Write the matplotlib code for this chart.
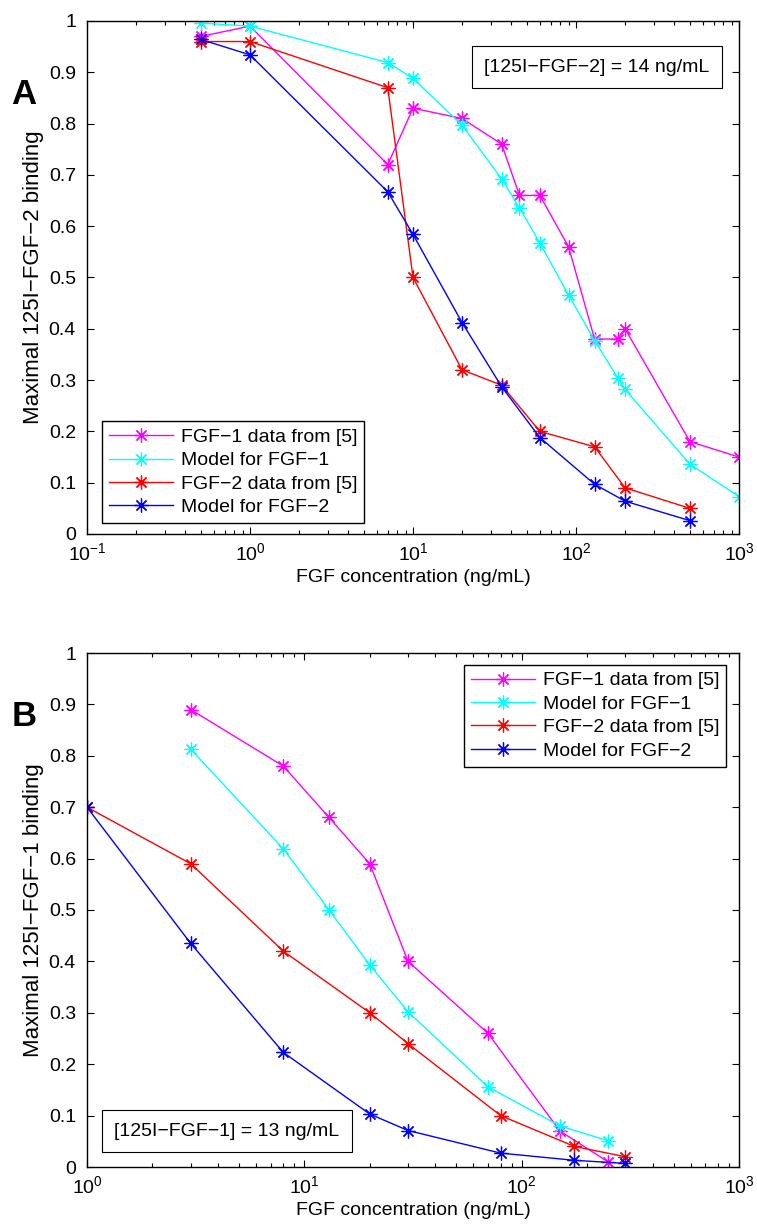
import matplotlib
matplotlib.use("Agg")
import matplotlib.pyplot as plt
from matplotlib.ticker import LogLocator, NullFormatter

plt.rcParams['font.family'] = ['Liberation Sans', 'DejaVu Sans']
plt.rcParams['mathtext.fontset'] = 'custom'
plt.rcParams['mathtext.rm'] = 'Liberation Sans'
plt.rcParams['mathtext.it'] = 'Liberation Sans'
plt.rcParams['mathtext.bf'] = 'Liberation Sans:bold'

# ---------------- Data: panel A ----------------
A_fgf1_x = [0.5, 1, 7, 10, 20, 35, 45, 60, 90, 130, 180, 200, 500, 1000]
A_fgf1_y = [0.97, 0.99, 0.72, 0.83, 0.81, 0.76, 0.66, 0.66, 0.56, 0.38, 0.38, 0.40, 0.18, 0.15]
A_mod1_x = [0.5, 1, 7, 10, 20, 35, 45, 60, 90, 130, 180, 200, 500, 1000]
A_mod1_y = [0.996, 0.990, 0.919, 0.888, 0.797, 0.692, 0.636, 0.567, 0.466, 0.377, 0.305, 0.282, 0.136, 0.073]
A_fgf2_x = [0.5, 1, 7, 10, 20, 35, 60, 130, 200, 500]
A_fgf2_y = [0.96, 0.96, 0.87, 0.50, 0.32, 0.29, 0.20, 0.17, 0.09, 0.05]
A_mod2_x = [0.5, 1, 7, 10, 20, 35, 60, 130, 200, 500]
A_mod2_y = [0.964, 0.934, 0.667, 0.584, 0.412, 0.287, 0.188, 0.097, 0.064, 0.026]

# ---------------- Data: panel B ----------------
B_fgf1_x = [3, 8, 13, 20, 30, 70, 150, 250]
B_fgf1_y = [0.89, 0.78, 0.68, 0.59, 0.40, 0.26, 0.07, 0.01]
B_mod1_x = [3, 8, 13, 20, 30, 70, 150, 250]
B_mod1_y = [0.813, 0.619, 0.500, 0.393, 0.302, 0.156, 0.080, 0.051]
B_fgf2_x = [1, 3, 8, 20, 30, 80, 175, 300]
B_fgf2_y = [0.70, 0.59, 0.42, 0.30, 0.24, 0.10, 0.04, 0.02]
B_mod2_x = [1, 3, 8, 20, 30, 80, 175, 300]
B_mod2_y = [0.70, 0.435, 0.223, 0.103, 0.071, 0.027, 0.013, 0.007]

labels = ["FGF\u22121 data from [5]", "Model for FGF\u22121",
          "FGF\u22122 data from [5]", "Model for FGF\u22122"]
colors = ["#ff00ff", "#00ffff", "#ff0000", "#0000ff"]
y_ticks = [0, 0.1, 0.2, 0.3, 0.4, 0.5, 0.6, 0.7, 0.8, 0.9, 1]
y_ticklabels = ["0", "0.1", "0.2", "0.3", "0.4", "0.5", "0.6", "0.7", "0.8", "0.9", "1"]

W, H = 757, 1228
fig = plt.figure(figsize=(W / 100, H / 100), dpi=100)

FS = 14
MARK = (8, 2, 0)


def px_axes(left, top, right, bottom):
    return fig.add_axes([left / W, 1 - bottom / H, (right - left) / W, (bottom - top) / H])


def style(ax, xlim, ylabel):
    ax.set_xscale('log')
    ax.set_xlim(*xlim)
    ax.set_ylim(0, 1)
    ax.set_yticks(y_ticks)
    ax.set_yticklabels(y_ticklabels)
    ax.xaxis.set_major_locator(LogLocator(base=10, numticks=10))
    ax.xaxis.set_minor_locator(LogLocator(base=10, subs=range(2, 10), numticks=20))
    ax.xaxis.set_minor_formatter(NullFormatter())
    ax.tick_params(which='both', direction='in', top=True, right=True, labelsize=FS, width=0.8)
    ax.tick_params(which='major', length=5)
    ax.tick_params(which='minor', length=3)
    ax.tick_params(axis='x', which='major', pad=6)
    ax.tick_params(axis='y', which='major', pad=8)
    for s in ax.spines.values():
        s.set_linewidth(1.0)
    ax.set_xlabel("FGF concentration (ng/mL)", fontsize=FS)
    ax.xaxis.set_label_coords(0.5, -0.068)
    ax.set_ylabel(ylabel, fontsize=16)
    ax.yaxis.set_label_coords(-0.066, 0.5)


def draw(ax, series):
    hs = []
    for (x, y), c, lab in zip(series, colors, labels):
        h, = ax.plot(x, y, color=c, lw=1.0, marker=MARK, markersize=10,
                     markeredgewidth=0.9, label=lab)
        hs.append(h)
    return hs


leg_kw = dict(bbox_transform=fig.transFigure, borderaxespad=0, fontsize=FS,
              numpoints=1, handlelength=3.3, handletextpad=0.4, labelspacing=0.3,
              fancybox=False, framealpha=1, edgecolor='black', borderpad=0.35)

# Panel A
axA = px_axes(87, 21, 739, 534)
hA = draw(axA, [(A_fgf1_x, A_fgf1_y), (A_mod1_x, A_mod1_y),
                (A_fgf2_x, A_fgf2_y), (A_mod2_x, A_mod2_y)])
style(axA, (0.1, 1000), "Maximal 125I\u2212FGF\u22122 binding")
legA = fig.legend(handles=hA, loc='lower left', bbox_to_anchor=(102 / W, 1 - 523 / H), **leg_kw)
legA.get_frame().set_linewidth(1.0)
fig.text(597 / W, 1 - 67 / H, "[125I\u2212FGF\u22122] = 14 ng/mL", ha='center', va='center',
         fontsize=FS, bbox=dict(boxstyle='square,pad=0.62', fc='white', ec='black', lw=0.8))
fig.text(24 / W, 1 - 95 / H, "A", ha='center', va='center', fontsize=25, fontweight='bold')

# Panel B
axB = px_axes(87, 653, 739, 1167)
hB = draw(axB, [(B_fgf1_x, B_fgf1_y), (B_mod1_x, B_mod1_y),
                (B_fgf2_x, B_fgf2_y), (B_mod2_x, B_mod2_y)])
style(axB, (1, 1000), "Maximal 125I\u2212FGF\u22121 binding")
legB = fig.legend(handles=hB, loc='upper right', bbox_to_anchor=(726 / W, 1 - 665 / H), **leg_kw)
legB.get_frame().set_linewidth(1.0)
fig.text(227 / W, 1 - 1131 / H, "[125I\u2212FGF\u22121] = 13 ng/mL", ha='center', va='center',
         fontsize=FS, bbox=dict(boxstyle='square,pad=0.62', fc='white', ec='black', lw=0.8))
fig.text(24 / W, 1 - 717 / H, "B", ha='center', va='center', fontsize=25, fontweight='bold')

fig.savefig("out.png", dpi=100)
